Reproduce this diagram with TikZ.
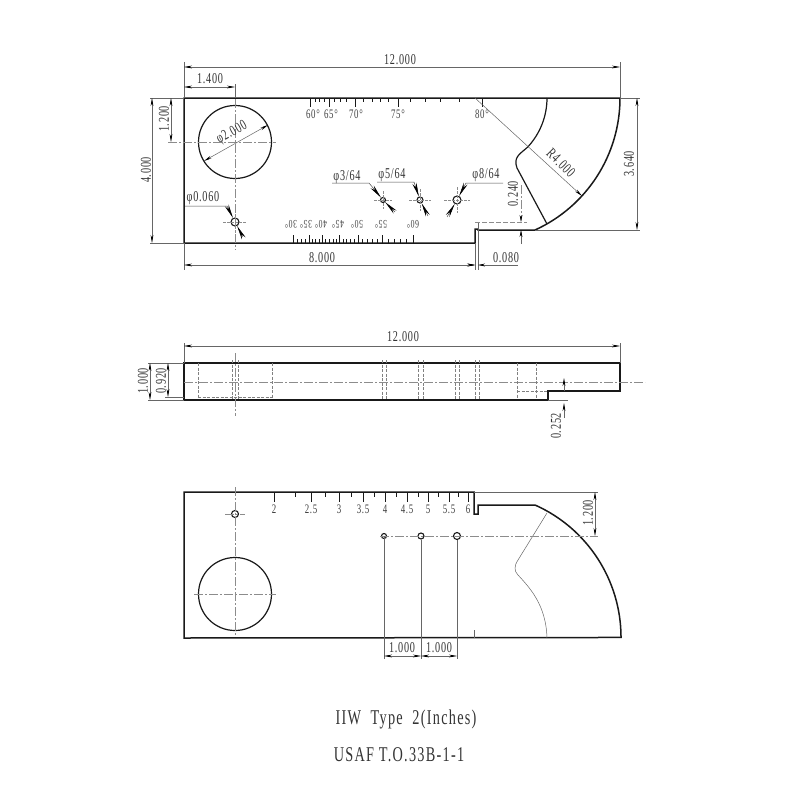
\documentclass[tikz,border=0pt]{standalone}
\usepackage{fontspec}
\setmainfont[FakeStretch=0.68,LetterSpace=5]{Liberation Serif}
\newfontfamily\titlefont[FakeStretch=0.68,LetterSpace=6]{Liberation Serif}
\usetikzlibrary{arrows.meta,positioning,calc}
\tikzset{x=1pt,y=-1pt,
        outline/.style={line width=1.5pt,black!90}, % Part edges
        thinline/.style={line width=0.5pt,black!60},
        hidden/.style={line width=0.45pt,black!50,dash pattern=on 3pt off 1.5pt},
        centre/.style={line width=0.45pt,black!45,dash pattern=on 9pt off 2pt on 2pt off 2pt},
        dim/.style={thinline,{Stealth[length=8pt,width=2.8pt,black]}-{Stealth[length=8pt,width=2.8pt,black]}},
        leader/.style={line width=0.5pt,black!70,-{Stealth[length=14pt,width=4.2pt,black]}},
        lbl/.style={font=\fontsize{15}{15}\selectfont,text=black!80,inner sep=0pt},
        deg/.style={font=\fontsize{13}{13}\selectfont,text=black!75,inner sep=0pt},
        lowdeg/.style={font=\fontsize{11.5}{11.5}\selectfont,text=black!75,inner sep=0pt,rotate=180},
        hole/.style={circle,draw,line width=1.1pt,black!90,inner sep=0pt}
        }
\begin{document}
\begin{tikzpicture}
    \useasboundingbox (0,0) rectangle (800,800);

    % top view
    \coordinate (tl) at (184,98);
    \coordinate (tr) at (620,98);
    \coordinate (bl) at (184,243);
    \coordinate (nb) at (475,243);
    \coordinate (arcc) at (475,98);
    \draw[outline] (tl) -- (tr) arc[start angle=0,end angle=65.6,radius=145] -- (478,230) -- (478,229) -- (475,229) -- (nb) -- (bl) -- cycle;
    \draw[outline,line width=1.2pt] (547,98) arc[start angle=0,end angle=42.9,radius=72]
        .. controls (520,154) and (513,157) .. (517,168) -- (547,224);
    \draw[outline,line width=1.2pt] (235,142) circle[radius=36.5];

    \foreach \xa/\txt in {310/60,329/65,355/70,398/75,482/80}
        \draw[outline,line width=0.9pt] (\xa,98) -- (\xa,107);
    \foreach \xa in {315,319,324,334,340,346,363,372,380,388,410,425,440,459}
        \draw[outline,line width=0.9pt] (\xa,98) -- (\xa,102);
    \foreach \xa/\txt in {313/60,331/65,356/70,398/75,482/80}
        \node[deg] (top\txt) at (\xa,114) {\txt°};

    \foreach \xa in {293,309,322,339,358,382,413}
        \draw[outline,line width=0.9pt] (\xa,243) -- (\xa,235);
    \foreach \xa in {297,301,305,312,315,319,325,329,333,336,343,346,350,354,362,367,372,377,388,394,400,406}
        \draw[outline,line width=0.9pt] (\xa,243) -- (\xa,239);
    \foreach \xa/\txt in {291/30,306/35,321/40,338/45,357/50,381/55,413/60}
        \node[lowdeg] (low\txt) at (\xa,224) {\txt°};

    \node[hole,minimum size=8pt] (h060) at (235,222) {};
    \node[hole,minimum size=5pt] (h364) at (383,200) {};
    \node[hole,minimum size=6pt] (h564) at (420,200) {};
    \node[hole,minimum size=8pt] (h864) at (457,200) {};
    \foreach \xa/\ya/\rr in {235/222/12,383/200/9,420/200/11,457/200/13} {
        \draw[centre,dash pattern=on 3pt off 1pt] (\xa-\rr,\ya) -- (\xa+\rr,\ya);
        \draw[centre,dash pattern=on 3pt off 1pt] (\xa,\ya-\rr) -- (\xa,\ya+\rr);
    }
    \draw[centre] (235,84) -- (235,250);
    \draw[centre] (168,142) -- (276,142);

    % top view dimensions
    \draw[thinline] (184,62) -- (tl) (bl) -- (184,270) (tr) -- (620,62);
    \draw[thinline] (150,98) -- (tl) (150,243) -- (bl) (620,98) -- (640,98) (535,230) -- (640,230);
    \draw[thinline] (475,243) -- (475,270) (478,222) -- (478,270);
    \draw[centre,dash pattern=on 5pt off 2pt] (475,222) -- (527,222);
    \draw[thinline] (235,84) -- (235,98);
    \draw[dim] (184,67) -- (620,67);
    \draw[dim] (184,87) -- (235,87);
    \draw[dim] (171,98) -- (171,142);
    \draw[dim] (152,98) -- (152,243);
    \draw[dim] (637,98) -- (637,230);
    \draw[dim] (184,265) -- (475,265);
    \draw[dim] (204,161) -- (268,125);
    \draw[thinline,-{Stealth[length=8pt,width=2.8pt,black]}] (arcc) -- (582,196);
    \draw[thinline,-{Stealth[length=7pt,width=2.8pt,black]}] (521,244) -- (521,230);
    \draw[centre,-{Stealth[length=7pt,width=2.8pt,black]}] (521,185) -- (521,222);
    \draw[thinline,-{Stealth[length=7pt,width=2.8pt,black]}] (463,265) -- (475,265);
    \draw[thinline,-{Stealth[length=7pt,width=2.8pt,black]}] (518,265) -- (478,265);

    \node[lbl] (w12) at (400,60) {12.000};
    \node[lbl] (w14) at (210,79) {1.400};
    \node[lbl,rotate=90] (h12) at (164,119) {1.200};
    \node[lbl,rotate=90] (h4) at (146,170) {4.000};
    \node[lbl,rotate=90] (h364l) at (629,164) {3.640};
    \node[lbl,rotate=90] (h24) at (513,194) {0.240};
    \node[lbl] (w8) at (322,258) {8.000};
    \node[lbl] (w08) at (506,258) {0.080};
    \node[lbl,rotate=29] (d2) at (232,133) {φ2.000};
    \node[lbl,rotate=-45] (r4) at (561,163) {R4.000};
    \node[lbl] (d060) at (203,198) {φ0.060};
    \node[lbl] (d364) at (347,177) {φ3/64};
    \node[lbl] (d564) at (392,175) {φ5/64};
    \node[lbl] (d864) at (486,175) {φ8/64};

    \draw[leader] (185,206) -- (227,206) -- (h060);
    \draw[leader] (243,237) -- (h060);
    \draw[leader] (332,183) -- (369,183) -- (h364);
    \draw[leader] (395,212) -- (h364);
    \draw[leader] (377,182) -- (414,182) -- (h564);
    \draw[leader] (428,216) -- (h564);
    \draw[leader] (503,183) -- (466,183) -- (h864);
    \draw[leader] (447,217) -- (h864);

    % side view
    \draw[outline] (184,363) -- (620,363) -- (620,391) -- (548,391) -- (548,400) -- (184,400) -- cycle;
    \draw[centre] (184,382) -- (645,382);
    \draw[centre] (235,353) -- (235,416);
    \foreach \xa in {198,272,517,536}
        \draw[hidden] (\xa,363) -- (\xa,398);
    \foreach \xa in {232,238,382,386,418,423,455,459,475,479}
        \draw[hidden] (\xa,360) -- (\xa,400);
    \draw[hidden] (198,397) -- (272,397);
    \draw[hidden] (517,391) -- (548,391);
    \draw[thinline] (184,343) -- (184,363) (620,343) -- (620,363);
    \draw[thinline] (148,363) -- (184,363) (148,400) -- (184,400) (165,397) -- (184,397) (548,400) -- (568,400);
    \draw[dim] (184,346) -- (620,346);
    \draw[dim] (150,363) -- (150,400);
    \draw[dim] (168,363) -- (168,397);
    \draw[thinline,-{Stealth[length=8pt,width=2.8pt,black]}] (564,391) -- (564,378);
    \draw[thinline,-{Stealth[length=8pt,width=2.8pt,black]}] (564,418) -- (564,403);
    \node[lbl] (sw12) at (403,337) {12.000};
    \node[lbl,rotate=90] (sh1) at (143,381) {1.000};
    \node[lbl,rotate=90] (sh092) at (161,381) {0.920};
    \node[lbl,rotate=90] (sh025) at (556,426) {0.252};

    % lower view
    \draw[outline] (184,492) -- (474,492) -- (474,514) -- (478,514) -- (478,505) -- (535,505) arc[start angle=-66,end angle=0,radius=145] -- (184,638) -- cycle;
    \draw[outline,line width=1.2pt] (235,594) circle[radius=36.5];
    \draw[thinline] (547,513) -- (518,560) .. controls (514,566) and (514,571) .. (518,575)
        .. controls (530,588) and (546,605) .. (547,638);
    \draw[thinline] (474,638) -- (474,630);
    \node[hole,minimum size=7pt] (b060) at (235,514) {};
    \node[hole,minimum size=5pt] (b364) at (384,536) {};
    \node[hole,minimum size=6pt] (b564) at (421,536) {};
    \node[hole,minimum size=7pt] (b864) at (457,536) {};
    \draw[centre] (235,487) -- (235,635);
    \draw[centre] (194,594) -- (276,594);
    \draw[centre] (225,514) -- (245,514);
    \draw[centre] (380,536) -- (598,536);

    \foreach \xa/\txt in {274/2,311/2.5,339/3,363/3.5,385/4,407/4.5,428/5,449/5.5,468/6}
        \draw[outline,line width=0.9pt] (\xa,492) -- (\xa,502);
    \foreach \xa in {295,325,351,374,396,418,438,458}
        \draw[outline,line width=0.9pt] (\xa,492) -- (\xa,497);
    \foreach \xa/\txt/\nm in {274/2/a,311/2.5/b,339/3/c,363/3.5/d,385/4/e,407/4.5/f,428/5/g,449/5.5/h,468/6/i}
        \node[deg] (in\nm) at (\xa,509) {\txt};

    \draw[thinline] (474,492) -- (598,492);
    \draw[thinline] (384,536) -- (384,659) (b564) -- (421,659) (b864) -- (457,659);
    \draw[dim] (595,492) -- (595,536);
    \draw[dim] (384,656) -- (421,656);
    \draw[dim] (421,656) -- (457,656);
    \node[lbl,rotate=90] (bh12) at (588,513) {1.200};
    \node[lbl] (bw1a) at (402,648) {1.000};
    \node[lbl] (bw1b) at (439,648) {1.000};

    \node[inner sep=0pt,text=black!80,font=\titlefont\fontsize{21}{21}\selectfont] (title) at (406,719) {IIW~~Type~~2(Inches)};
    \node[inner sep=0pt,text=black!80,font=\titlefont\fontsize{21}{21}\selectfont] (ref) at (399,755) {USAF T.O.33B-1-1};
\end{tikzpicture}
\end{document}
